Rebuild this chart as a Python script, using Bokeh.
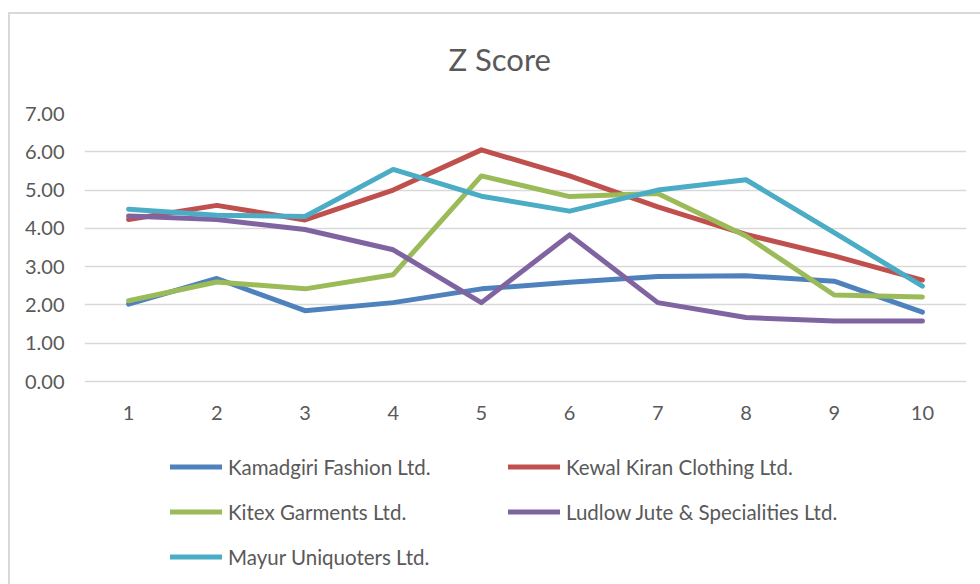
from bokeh.plotting import figure
from bokeh.models import FixedTicker, Legend, LegendItem, NumeralTickFormatter, Range1d
from bokeh.core.properties import value
from bokeh.embed import file_html
from bokeh.resources import INLINE

periods = [1, 2, 3, 4, 5, 6, 7, 8, 9, 10]
period_labels = ["1", "2", "3", "4", "5", "6", "7", "8", "9", "10"]
kamadgiri = [2.02, 2.69, 1.85, 2.06, 2.42, 2.59, 2.74, 2.76, 2.62, 1.81]
kewal_kiran = [4.23, 4.60, 4.22, 5.00, 6.05, 5.37, 4.56, 3.84, 3.28, 2.65]
kitex = [2.11, 2.60, 2.42, 2.79, 5.37, 4.83, 4.91, 3.80, 2.26, 2.21]
ludlow = [4.32, 4.23, 3.97, 3.44, 2.06, 3.83, 2.06, 1.67, 1.58, 1.58]
mayur = [4.50, 4.34, 4.31, 5.54, 4.84, 4.45, 5.00, 5.27, 3.89, 2.49]

series_names = [
    "Kamadgiri Fashion Ltd.",
    "Kewal Kiran Clothing Ltd.",
    "Kitex Garments Ltd.",
    "Ludlow Jute & Specialities Ltd.",
    "Mayur Uniquoters Ltd.",
]
series_values = [kamadgiri, kewal_kiran, kitex, ludlow, mayur]
colors = ["#4F81BD", "#C0504D", "#9BBB59", "#8064A2", "#4BACC6"]
y_ticks = [0, 1, 2, 3, 4, 5, 6, 7]

FONT = "Lato"
TXT = "#595959"

# layout (pixels): value axis 0..7 spans 268 px, legend area lives below 0
W, H = 980, 584
LEFT, RIGHT, TOP = 84, 14, 113
PLOT_H = 268          # height of the 0..7 band
px_per_unit = PLOT_H / 7.0
y_start = -(H - TOP - PLOT_H) / px_per_unit

p = figure(
    width=W, height=H, output_backend="svg", toolbar_location=None,
    x_range=Range1d(0.5, 10.5), y_range=Range1d(y_start, 7),
    x_axis_location=None,
    min_border_left=LEFT, min_border_right=RIGHT, min_border_top=TOP, min_border_bottom=0,
)
p.background_fill_color = None
p.border_fill_color = None
p.outline_line_color = None
p.styles = {
    "background-color": "white",
    "background-image": "linear-gradient(#d9d9d9, #d9d9d9), linear-gradient(#d9d9d9, #d9d9d9)",
    "background-size": "100% 2px, 2px 100%",
    "background-position": "8px 12px, 8px 12px",
    "background-repeat": "no-repeat",
}

p.title.text = "Z Score"
p.title.text_font = FONT
p.title.text_font_size = "31px"
p.title.text_font_style = "normal"
p.title.text_color = TXT
p.title.align = "left"
p.title.offset = 364
p.title.standoff = 72

p.xgrid.grid_line_color = None
p.ygrid.ticker = FixedTicker(ticks=y_ticks)
p.ygrid.grid_line_color = "#d9d9d9"
p.ygrid.grid_line_width = 1.5

p.yaxis.ticker = FixedTicker(ticks=y_ticks)
p.yaxis.formatter = NumeralTickFormatter(format="0.00")
p.yaxis.axis_line_color = None
p.yaxis.major_tick_line_color = None
p.yaxis.minor_tick_line_color = None
p.yaxis.major_tick_out = 0
p.yaxis.major_tick_in = 0
p.yaxis.minor_tick_out = 0
p.yaxis.major_label_text_font = FONT
p.yaxis.major_label_text_font_size = "20px"
p.yaxis.major_label_text_color = TXT
p.yaxis.major_label_standoff = 20

# category labels under the 0.00 line
p.text(x=periods, y=[0] * len(periods), text=period_labels, y_offset=31,
       text_align="center", text_baseline="middle",
       text_font=value(FONT), text_font_size="20px", text_color=TXT)

items = []
for name, vals, col in zip(series_names, series_values, colors):
    r = p.line(periods, vals, line_color=col, line_width=5,
               line_join="round", line_cap="round")
    items.append(LegendItem(label=name, renderers=[r]))

legend = Legend(
    items=items, location=(86, 15), orientation="horizontal", ncols=2,
    border_line_color=None, background_fill_alpha=0, padding=0, margin=0,
    spacing=20, label_height=25, glyph_height=25, glyph_width=52,
    label_standoff=6, label_width=260,
    label_text_font=FONT, label_text_font_size="20.5px", label_text_color=TXT,
)
p.add_layout(legend)

open("out.html", "w").write(file_html(p, INLINE))
